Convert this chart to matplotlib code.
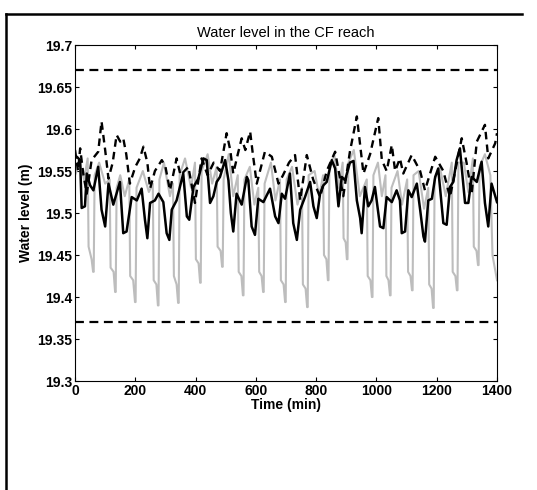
import matplotlib
matplotlib.use('Agg')
import matplotlib.pyplot as plt
from matplotlib.lines import Line2D
from matplotlib.ticker import FuncFormatter

plt.rcParams['font.family'] = ['Liberation Sans', 'DejaVu Sans']

# gray series (min)
gray_t = [0, 15, 30, 42, 45, 55, 60, 62, 65,
          80, 100, 115, 118, 128, 133, 135, 138,
          150, 165, 180, 183, 193, 199, 201, 204,
          225, 245, 258, 261, 270, 275, 277, 280,
          295, 315, 325, 328, 337, 342, 344, 347,
          365, 385, 398, 401, 410, 415, 417, 420,
          440, 455, 470, 473, 483, 488, 490, 493,
          510, 525, 540, 543, 552, 557, 559, 562,
          580, 595, 608, 611, 619, 624, 626, 629,
          650, 665, 680, 683, 692, 697, 699, 702,
          720, 738, 753, 756, 765, 770, 772, 775,
          795, 810, 823, 826, 834, 839, 841, 844,
          860, 875, 888, 891, 898, 902, 904, 907,
          925, 945, 968, 971, 980, 985, 987, 990,
          1005, 1018, 1030, 1033, 1040, 1045, 1047, 1050,
          1070, 1085, 1102, 1105, 1113, 1118, 1120, 1123,
          1140, 1158, 1172, 1175, 1183, 1188, 1190, 1193,
          1210, 1230, 1250, 1253, 1262, 1267, 1269, 1272,
          1290, 1305, 1320, 1323, 1332, 1337, 1339, 1342,
          1360, 1378, 1385, 1395, 1400]
gray_v = [19.545, 19.560, 19.540, 19.565, 19.460, 19.445, 19.430, 19.430, 19.545,
          19.560, 19.535, 19.540, 19.435, 19.430, 19.406, 19.406, 19.530,
          19.545, 19.520, 19.540, 19.425, 19.420, 19.394, 19.394, 19.530,
          19.550, 19.525, 19.535, 19.420, 19.415, 19.390, 19.390, 19.540,
          19.560, 19.520, 19.535, 19.425, 19.415, 19.393, 19.393, 19.545,
          19.565, 19.530, 19.560, 19.445, 19.440, 19.417, 19.417, 19.550,
          19.570, 19.535, 19.555, 19.460, 19.455, 19.436, 19.436, 19.540,
          19.570, 19.520, 19.545, 19.430, 19.425, 19.402, 19.402, 19.540,
          19.555, 19.510, 19.530, 19.430, 19.425, 19.406, 19.406, 19.535,
          19.560, 19.515, 19.540, 19.420, 19.415, 19.394, 19.394, 19.540,
          19.555, 19.510, 19.530, 19.415, 19.410, 19.388, 19.388, 19.545,
          19.550, 19.520, 19.545, 19.450, 19.445, 19.420, 19.420, 19.555,
          19.570, 19.530, 19.560, 19.470, 19.465, 19.445, 19.445, 19.560,
          19.575, 19.520, 19.540, 19.425, 19.420, 19.400, 19.400, 19.545,
          19.560, 19.520, 19.545, 19.425, 19.420, 19.402, 19.402, 19.530,
          19.550, 19.510, 19.540, 19.430, 19.425, 19.408, 19.408, 19.545,
          19.550, 19.505, 19.530, 19.415, 19.410, 19.387, 19.387, 19.540,
          19.555, 19.520, 19.560, 19.430, 19.425, 19.408, 19.408, 19.560,
          19.560, 19.525, 19.565, 19.460, 19.455, 19.438, 19.438, 19.555,
          19.570, 19.545, 19.450, 19.430, 19.420]

# black solid series
black_t = [0, 6, 17, 22, 33, 39, 50, 61, 77, 88, 100, 111, 127, 149, 160, 171,
           188, 205, 221, 232, 240, 249, 265, 277, 293, 304, 313, 321, 337, 359,
           371, 379, 393, 409, 426, 437, 448, 459, 470, 481, 498, 509, 517, 525,
           536, 553, 570, 575, 586, 597, 608, 625, 647, 664, 675, 686, 697, 713,
           724, 736, 747, 763, 780, 791, 802, 813, 824, 835, 852, 863, 874, 885,
           896, 912, 924, 935, 946, 951, 962, 973, 984, 995, 1012, 1023, 1034,
           1051, 1067, 1078, 1084, 1095, 1106, 1117, 1134, 1145, 1156, 1161,
           1172, 1184, 1195, 1205, 1222, 1233, 1244, 1255, 1266, 1277, 1294,
           1305, 1316, 1333, 1349, 1360, 1371, 1382, 1400]
black_v = [19.565, 19.567, 19.563, 19.506, 19.508, 19.547, 19.533, 19.527,
           19.555, 19.504, 19.484, 19.535, 19.510, 19.537, 19.476, 19.478,
           19.519, 19.515, 19.529, 19.492, 19.470, 19.512, 19.515, 19.523,
           19.513, 19.476, 19.468, 19.504, 19.515, 19.547, 19.496, 19.492,
           19.531, 19.541, 19.565, 19.563, 19.512, 19.520, 19.537, 19.543,
           19.563, 19.539, 19.500, 19.478, 19.523, 19.510, 19.543, 19.539,
           19.484, 19.474, 19.517, 19.513, 19.529, 19.496, 19.488, 19.523,
           19.517, 19.547, 19.488, 19.468, 19.504, 19.519, 19.537, 19.508,
           19.494, 19.523, 19.533, 19.537, 19.563, 19.553, 19.508, 19.543,
           19.539, 19.560, 19.562, 19.515, 19.494, 19.476, 19.531, 19.508,
           19.515, 19.531, 19.484, 19.482, 19.519, 19.513, 19.527, 19.515,
           19.476, 19.478, 19.527, 19.519, 19.535, 19.504, 19.472, 19.466,
           19.515, 19.517, 19.543, 19.553, 19.488, 19.486, 19.531, 19.537,
           19.563, 19.577, 19.512, 19.512, 19.543, 19.537, 19.561, 19.512,
           19.484, 19.535, 19.513]

# black dashed series
dash_t = [0, 10, 17, 28, 39, 55, 77, 88, 100, 111, 125, 138, 150, 160, 170,
          182, 200, 215, 227, 240, 249, 265, 288, 300, 315, 337, 350, 376, 398,
          420, 440, 460, 481, 503, 515, 525, 540, 553, 565, 581, 590, 603, 630,
          653, 675, 690, 710, 730, 747, 769, 790, 813, 835, 863, 890, 912, 935,
          957, 979, 1006, 1018, 1034, 1051, 1062, 1078, 1089, 1117, 1145, 1161,
          1195, 1222, 1244, 1283, 1299, 1316, 1333, 1360, 1371, 1394, 1400]
dash_v = [19.575, 19.550, 19.577, 19.545, 19.523, 19.563, 19.573, 19.609,
          19.575, 19.541, 19.560, 19.593, 19.585, 19.589, 19.570, 19.535,
          19.555, 19.565, 19.579, 19.560, 19.529, 19.550, 19.563, 19.555,
          19.527, 19.565, 19.545, 19.555, 19.512, 19.565, 19.545, 19.560,
          19.550, 19.595, 19.575, 19.547, 19.570, 19.589, 19.575, 19.597,
          19.570, 19.535, 19.573, 19.567, 19.535, 19.545, 19.560, 19.569,
          19.515, 19.569, 19.540, 19.519, 19.550, 19.573, 19.520, 19.573,
          19.615, 19.547, 19.570, 19.613, 19.563, 19.550, 19.581, 19.550,
          19.565, 19.547, 19.569, 19.550, 19.527, 19.567, 19.550, 19.519,
          19.589, 19.560, 19.523, 19.585, 19.605, 19.565, 19.583, 19.595]

upper_limit = 19.67
lower_limit = 19.37

fig = plt.figure(figsize=(5.37, 4.90), dpi=100)
ax = fig.add_axes([0.1397, 0.2224, 0.7858, 0.6857])

ax.plot(gray_t, gray_v, color='#bdbdbd', lw=1.5)
ax.plot(dash_t, dash_v, color='black', lw=1.7, dashes=(3.2, 2.2))
ax.plot(black_t, black_v, color='black', lw=1.8)
ax.axhline(upper_limit, color='black', lw=1.6, dashes=(4, 2.5))
ax.axhline(lower_limit, color='black', lw=1.6, dashes=(4, 2.5))

ax.set_xlim(0, 1400)
ax.set_ylim(19.3, 19.7)
ax.set_xticks(range(0, 1401, 200))
ax.set_yticks([19.3 + 0.05 * i for i in range(9)])
ax.yaxis.set_major_formatter(FuncFormatter(lambda v, p: '%g' % round(v, 2)))
ax.tick_params(direction='in', top=True, right=True, length=3, width=0.8,
               labelsize=10, pad=2)
for lab in ax.get_xticklabels() + ax.get_yticklabels():
    lab.set_fontweight('bold')
for s in ax.spines.values():
    s.set_linewidth(0.8)

ax.set_title('Water level in the CF reach', fontsize=10.5, pad=6)
ax.set_xlabel('Time (min)', fontsize=10, fontweight='bold', labelpad=0)
ax.set_ylabel('Water level (m)', fontsize=10, fontweight='bold', labelpad=3)

# frame around the figure
fig.add_artist(Line2D([0.011, 0.011], [0.0, 0.971], transform=fig.transFigure,
                      color='black', lw=1.8))
fig.add_artist(Line2D([0.011, 0.972], [0.971, 0.971], transform=fig.transFigure,
                      color='black', lw=1.8))

fig.savefig('out.png', dpi=100)
